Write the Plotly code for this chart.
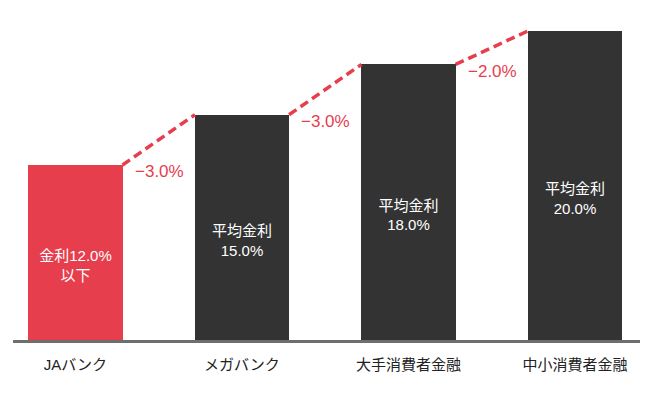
import plotly.graph_objects as go

categories = ["JAバンク", "メガバンク", "大手消費者金融", "中小消費者金融"]
rates = [12.0, 15.0, 18.0, 20.0]
bar_texts = ["金利12.0%<br>以下", "平均金利<br>15.0%", "平均金利<br>18.0%", "平均金利<br>20.0%"]
diff_labels = ["−3.0%", "−3.0%", "−2.0%"]

RED = "#e63e4d"
DARK = "#333333"
FONT = "Liberation Sans, Noto Sans CJK JP, sans-serif"
BAR_W = 0.565

idx = list(range(len(categories)))
colors = [RED] + [DARK] * (len(categories) - 1)

fig = go.Figure()
fig.add_trace(go.Bar(
    x=idx, y=rates, width=BAR_W,
    marker=dict(color=colors, line=dict(width=0)),
    text=bar_texts, textposition="inside", insidetextanchor="middle",
    textfont=dict(color="white", size=15, family=FONT),
    hoverinfo="skip", showlegend=False,
))

for i in range(len(categories) - 1):
    x0 = idx[i] + BAR_W / 2
    x1 = idx[i + 1] - BAR_W / 2
    fig.add_trace(go.Scatter(
        x=[x0, x1], y=[rates[i], rates[i + 1]], mode="lines",
        line=dict(color=RED, width=3.5, dash="9px,5px"),
        hoverinfo="skip", showlegend=False,
    ))
    fig.add_annotation(
        x=x0, y=rates[i], xref="x", yref="y", text=diff_labels[i],
        showarrow=False, xanchor="left", yanchor="middle",
        xshift=10, yshift=-7,
        font=dict(color=RED, size=17, family=FONT),
    )

fig.update_layout(
    width=650, height=402,
    margin=dict(l=13, r=10, t=10, b=62, autoexpand=False),
    paper_bgcolor="white", plot_bgcolor="white",
    font=dict(family=FONT),
    xaxis=dict(
        range=[-0.375, 3.39], tickvals=idx, ticktext=categories,
        showgrid=False, zeroline=False, showline=True,
        linecolor="#6e6e6e", linewidth=3, ticks="",
        ticklabelstandoff=9,
        tickfont=dict(size=15, color="#222222", family=FONT),
        fixedrange=True,
    ),
    yaxis=dict(
        range=[1.55, 21.25], visible=False, showgrid=False, zeroline=False,
        fixedrange=True,
    ),
    bargap=0,
)

fig.write_html(
    "out.html",
    config={"displayModeBar": False},
    post_script="document.body.style.margin='0';document.body.style.padding='0';",
)
